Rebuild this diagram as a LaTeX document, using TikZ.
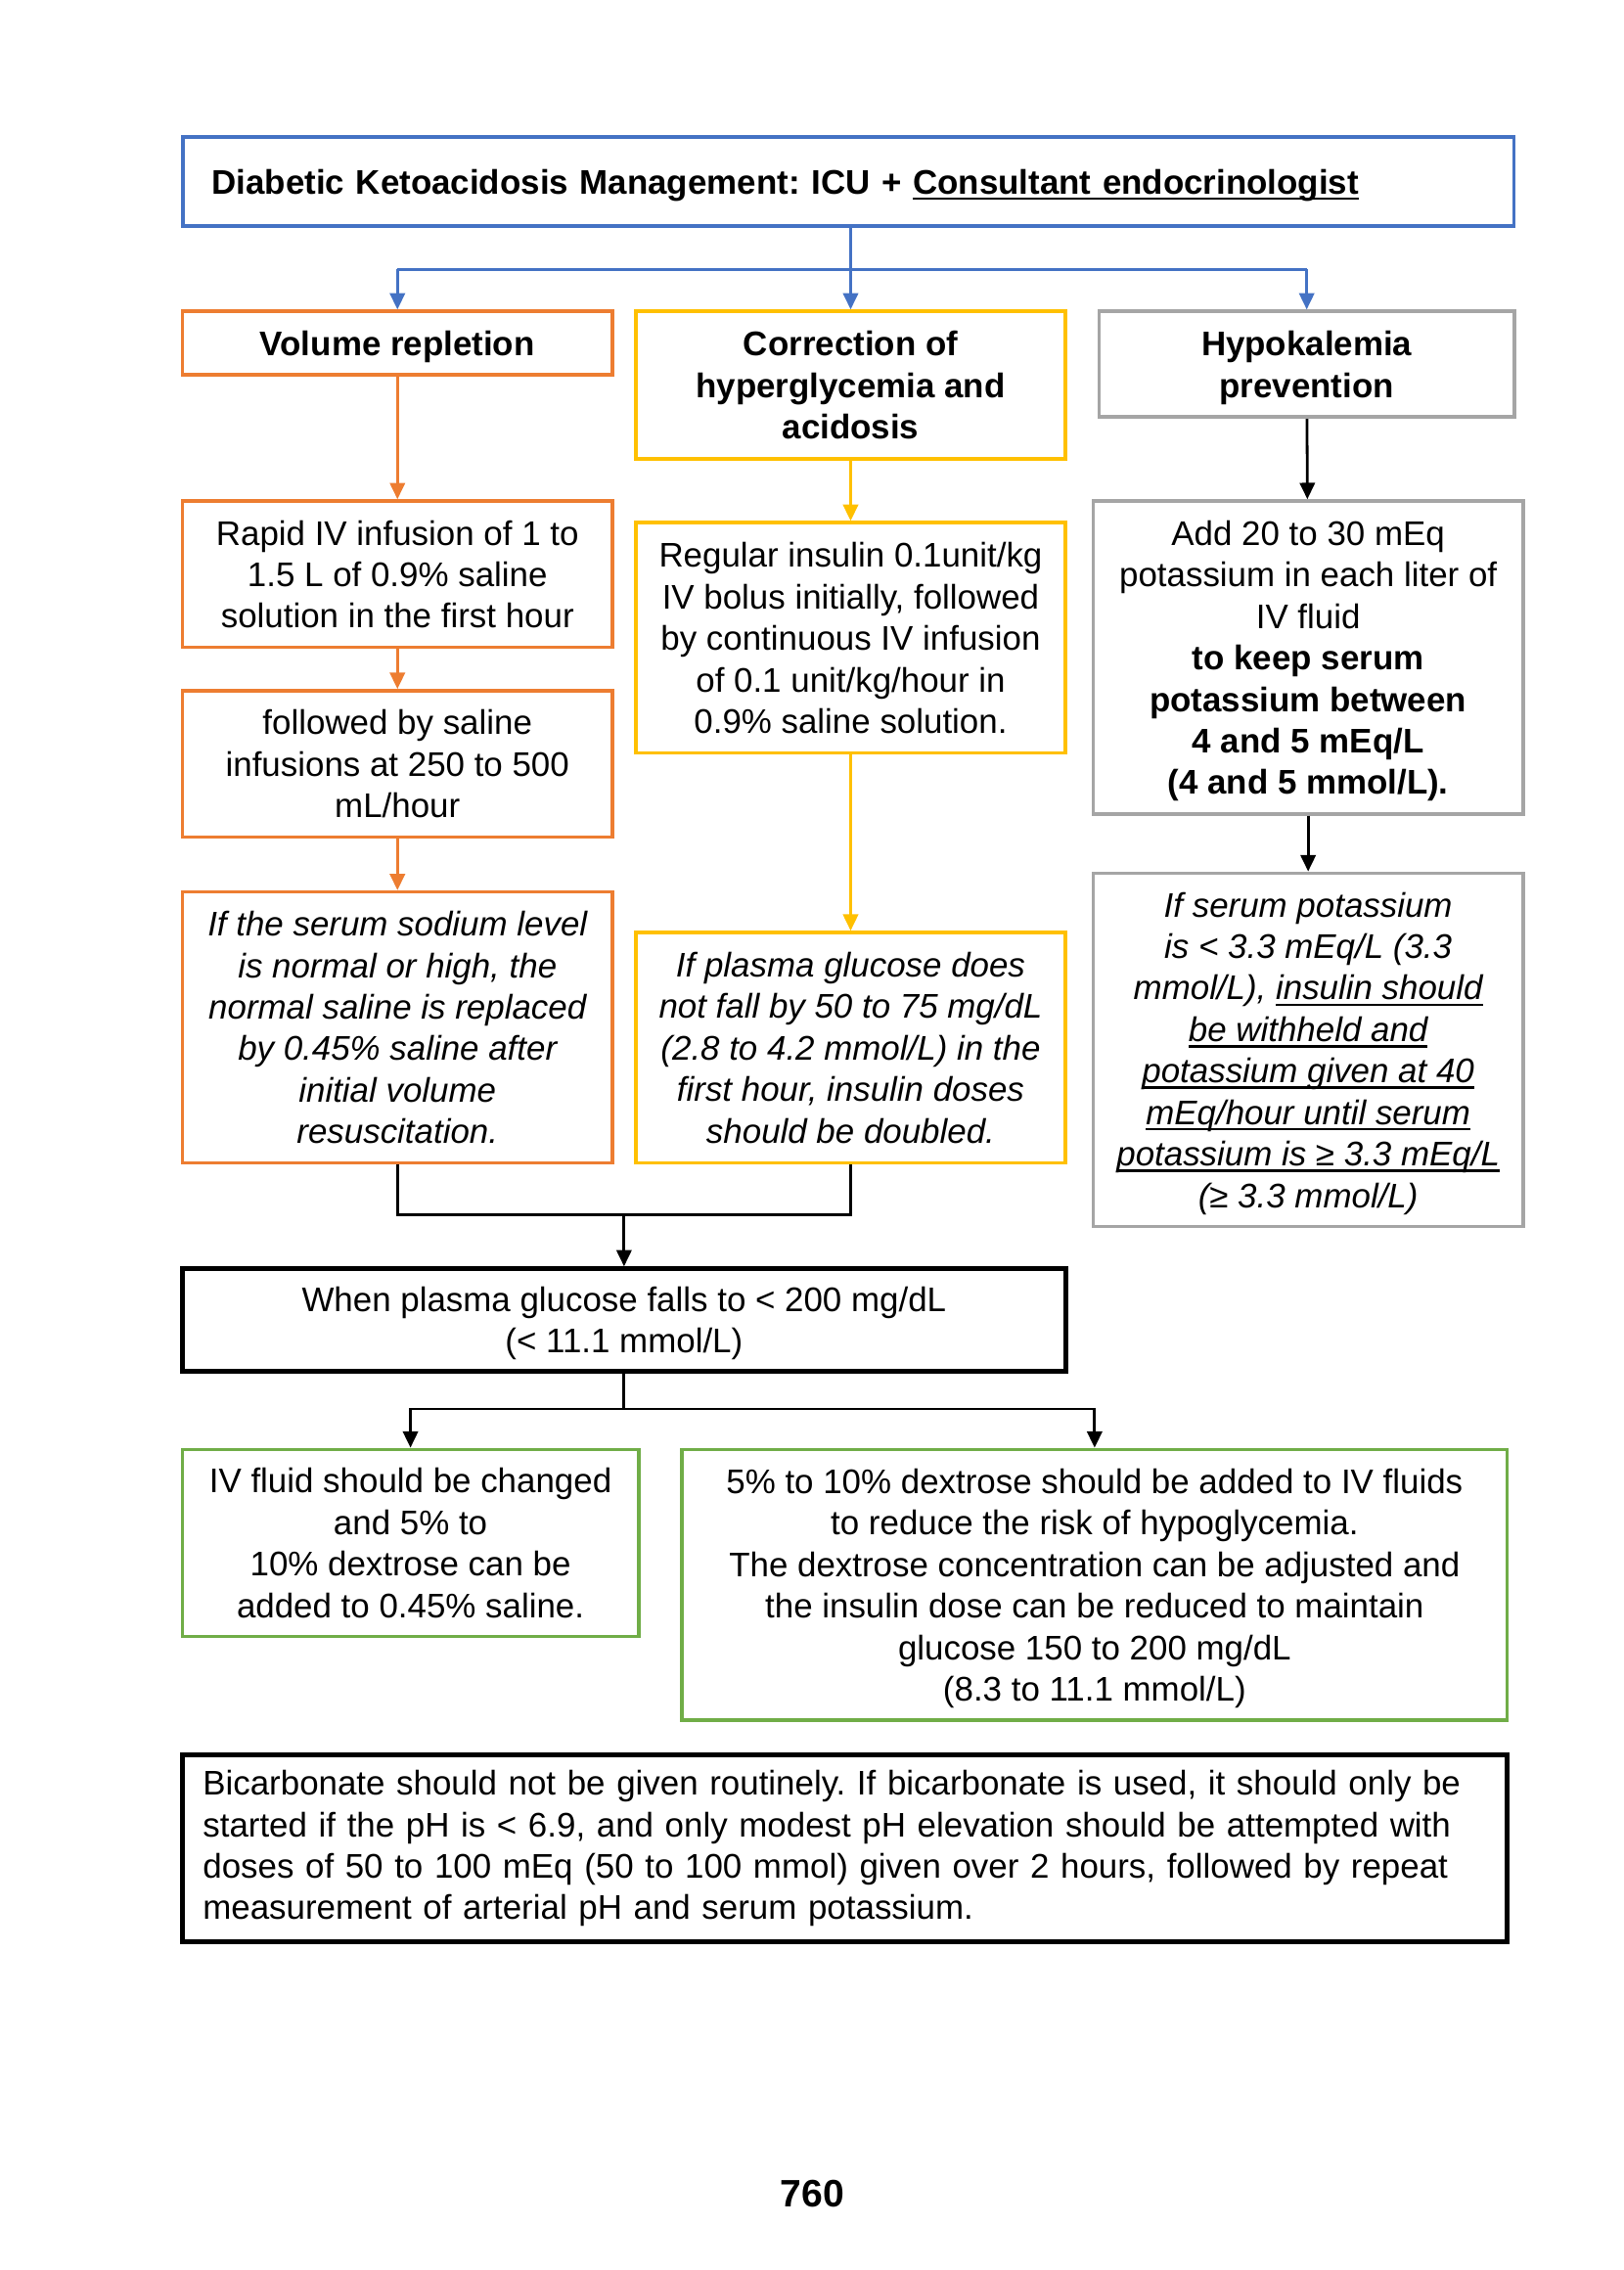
\documentclass[tikz,border=0pt]{standalone}
\usepackage{fontspec}
\setmainfont{Liberation Sans}
\usetikzlibrary{arrows.meta}
\definecolor{dkaBlue}{HTML}{4472C4}
\definecolor{dkaOrange}{HTML}{ED7D31}
\definecolor{dkaYellow}{HTML}{FFC000}
\definecolor{dkaGray}{HTML}{A5A5A5}
\definecolor{dkaGreen}{HTML}{70AD47}
\newcommand{\dkaul}[1]{\setbox0\hbox{#1}\rlap{\rule[-2.2pt]{\wd0}{0.9pt}}\box0}
\frenchspacing
\begin{document}
\begin{tikzpicture}[
                x=0.53pt, y=-0.53pt,
                box/.style={draw, line width=1.3pt, align=center, inner sep=1pt, text depth=0pt, font=\fontsize{12.5}{15.2}\selectfont},
                ibox/.style={box, font=\fontsize{12.5}{15.2}\selectfont\itshape},
                link/.style={line width=1pt},
                arrow/.style={link, -{Triangle[length=6pt,width=5.5pt]}}]
            \useasboundingbox (0,0) rectangle (1121.6,1567.6);
            \node[box, draw=dkaBlue, align=left, text width=466pt, inner xsep=10.6pt, minimum height=32.6pt, font=\fontsize{12.5}{15.2}\selectfont\bfseries] (title) at (585.9,125.3)
                {Diabetic Ketoacidosis Management: ICU + \dkaul{Consultant endocrinologist}};
            \node[box, draw=dkaOrange, minimum width=157.4pt, minimum height=23.3pt, font=\fontsize{12.5}{15.2}\selectfont\bfseries] (vol) at (274.5,237) {Volume repletion};
            \node[box, draw=dkaYellow, minimum width=157.4pt, minimum height=54.1pt, font=\fontsize{12.5}{15.2}\selectfont\bfseries] (corr) at (587.5,266)
                {Correction of\\ hyperglycemia and\\ acidosis};
            \node[box, draw=dkaGray, minimum width=152.1pt, minimum height=38.7pt, font=\fontsize{12.5}{15.2}\selectfont\bfseries] (hypo) at (902.5,251.5)
                {Hypokalemia\\ prevention};
            \node[box, draw=dkaOrange, minimum width=157.4pt, minimum height=53.5pt] (rapid) at (274.5,396.5)
                {Rapid IV infusion of 1 to\\ 1.5 L of 0.9\% saline\\ solution in the first hour};
            \node[box, draw=dkaOrange, minimum width=157.4pt, minimum height=53.5pt] (follow) at (274.5,527.5)
                {followed by saline\\ infusions at 250 to 500\\ mL/hour};
            \node[ibox, draw=dkaOrange, minimum width=157.4pt, minimum height=99.1pt] (sodium) at (274.5,709.5)
                {If the serum sodium level\\ is normal or high, the\\ normal saline is replaced\\ by 0.45\% saline after\\ initial volume\\ resuscitation.};
            \node[box, draw=dkaYellow, minimum width=157.4pt, minimum height=84.3pt] (regular) at (587.5,440.5)
                {Regular insulin 0.1unit/kg\\ IV bolus initially, followed\\ by continuous IV infusion\\ of 0.1 unit/kg/hour in\\ 0.9\% saline solution.};
            \node[ibox, draw=dkaYellow, minimum width=157.4pt, minimum height=84.3pt] (plasma) at (587.5,723.5)
                {If plasma glucose does\\ not fall by 50 to 75 mg/dL\\ (2.8 to 4.2 mmol/L) in the\\ first hour, insulin doses\\ should be doubled.};
            \node[box, draw=dkaGray, minimum width=157.4pt, minimum height=114.5pt] (add) at (903.5,454)
                {Add 20 to 30 mEq\\ potassium in each liter of\\ IV fluid\\ \textbf{to keep serum}\\ \textbf{potassium between}\\ \textbf{4 and 5 mEq/L}\\ \textbf{(4 and 5 mmol/L).}};
            \node[ibox, draw=dkaGray, minimum width=157.4pt, minimum height=129.3pt] (serum) at (903.5,725)
                {If serum potassium\\ is < 3.3 mEq/L (3.3\\ mmol/L), \dkaul{insulin should}\\ \dkaul{be withheld and}\\ \dkaul{potassium given at 40}\\ \dkaul{mEq/hour until serum}\\ \dkaul{potassium is ≥ 3.3 mEq/L}\\ (≥ 3.3 mmol/L)};
            \node[box, draw=black, line width=1.6pt, minimum width=323.3pt, minimum height=37.6pt] (when) at (431,911.5)
                {When plasma glucose falls to < 200 mg/dL\\ (< 11.1 mmol/L)};
            \node[box, draw=dkaGreen, minimum width=167pt, minimum height=68.4pt] (fluid) at (283.5,1065.5)
                {IV fluid should be changed\\ and 5\% to\\ 10\% dextrose can be\\ added to 0.45\% saline.};
            \node[box, draw=dkaGreen, minimum width=302.1pt, minimum height=99.1pt] (dextrose) at (756,1094.5)
                {5\% to 10\% dextrose should be added to IV fluids\\ to reduce the risk of hypoglycemia.\\ The dextrose concentration can be adjusted and\\ the insulin dose can be reduced to maintain\\ glucose 150 to 200 mg/dL\\ (8.3 to 11.1 mmol/L)};
            \node[box, draw=black, line width=1.6pt, align=left, text width=470pt, text depth={}, inner xsep=7.4pt, minimum height=68.4pt] (bicarb) at (583.5,1276.5)
                {Bicarbonate should not be given routinely. If bicarbonate is used, it should only be\\ started if the pH is < 6.9, and only modest pH elevation should be attempted with\\ doses of 50 to 100 mEq (50 to 100 mmol) given over 2 hours, followed by repeat\\ measurement of arterial pH and serum potassium.};
            \node[font=\fontsize{14}{16}\selectfont\bfseries] (page) at (561,1515) {760};
            \coordinate (bus) at (587.5,186);
            \coordinate (join) at (431,839);
            \coordinate (fork) at (431,973);
            \draw[arrow, dkaBlue] (title.south -| corr) -- (corr.north);
            \draw[link, dkaBlue] (vol |- bus) -- (hypo |- bus);
            \draw[arrow, dkaBlue] (vol |- bus) -- (vol.north);
            \draw[arrow, dkaBlue] (hypo |- bus) -- (hypo.north);
            \draw[arrow, dkaOrange] (vol) -- (rapid);
            \draw[arrow, dkaOrange] (rapid) -- (follow);
            \draw[arrow, dkaOrange] (follow) -- (sodium);
            \draw[arrow, dkaYellow] (corr) -- (regular);
            \draw[arrow, dkaYellow] (regular) -- (plasma);
            \draw[arrow] (hypo) -- (add);
            \draw[arrow] (add) -- (serum);
            \draw[link] (sodium.south) |- (join) -| (plasma.south);
            \draw[arrow] (join) -- (when.north);
            \draw[link] (when.south) -- (fork);
            \draw[arrow] (fork) -| (fluid.north);
            \draw[arrow] (fork) -| (dextrose.north);
        \end{tikzpicture}
\end{document}
